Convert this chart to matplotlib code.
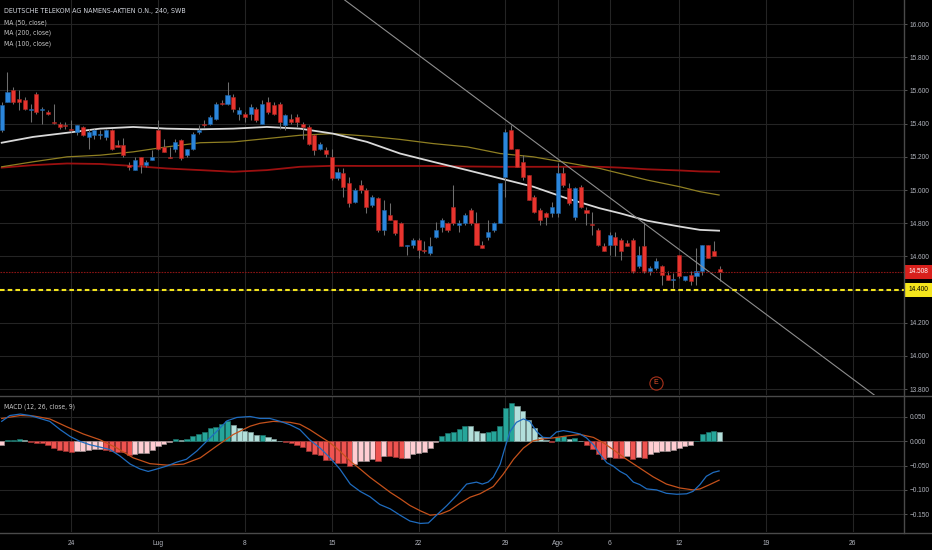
import matplotlib
matplotlib.use('Agg')
import matplotlib.pyplot as plt
import matplotlib.transforms as mtransforms
from matplotlib.lines import Line2D
from matplotlib import font_manager as fm

# ---------------- data ----------------
opens = [15.36,15.53,15.60,15.55,15.54,15.48,15.58,15.48,15.47,15.41,
         15.40,15.39,15.365,15.35,15.38,15.32,15.33,15.33,15.32,15.36,
         15.27,15.27,15.15,15.12,15.20,15.15,15.18,15.36,15.26,15.20,
         15.25,15.30,15.21,15.25,15.35,15.40,15.40,15.43,15.525,15.52,
         15.56,15.46,15.46,15.46,15.49,15.40,15.53,15.51,15.52,15.39,
         15.43,15.44,15.40,15.38,15.33,15.25,15.24,15.20,15.07,15.10,
         15.04,14.93,15.03,15.00,14.91,14.95,14.76,14.85,14.82,14.80,
         14.66,14.67,14.70,14.64,14.62,14.72,14.78,14.80,14.90,14.79,
         14.80,14.88,14.80,14.67,14.72,14.76,14.80,15.08,15.36,15.25,
         15.17,15.09,14.96,14.88,14.86,14.86,14.86,15.10,15.01,14.84,
         15.02,14.88,14.795,14.76,14.66,14.67,14.72,14.70,14.68,14.70,
         14.54,14.66,14.51,14.53,14.54,14.49,14.46,14.61,14.46,14.49,
         14.48,14.51,14.67,14.63,14.525]
highs = [15.53,15.71,15.62,15.60,15.56,15.52,15.59,15.50,15.48,15.52,
         15.41,15.41,15.42,15.39,15.385,15.37,15.37,15.36,15.37,15.37,
         15.30,15.315,15.17,15.20,15.20,15.18,15.24,15.42,15.31,15.26,
         15.31,15.31,15.25,15.35,15.39,15.42,15.45,15.53,15.54,15.65,
         15.58,15.50,15.47,15.52,15.50,15.54,15.56,15.53,15.53,15.46,
         15.46,15.46,15.41,15.39,15.34,15.29,15.26,15.25,15.13,15.13,
         15.08,15.01,15.06,15.01,14.97,14.96,14.94,14.92,14.82,14.81,
         14.67,14.71,14.71,14.69,14.72,14.81,14.83,14.81,15.03,14.82,
         14.86,14.89,14.87,14.69,14.82,14.81,15.04,15.37,15.39,15.25,
         15.21,15.09,14.97,14.89,14.87,14.93,15.16,15.14,15.04,15.02,
         15.03,14.90,14.87,14.77,14.68,14.75,14.75,14.71,14.70,14.71,
         14.66,14.81,14.54,14.59,14.55,14.51,14.50,14.61,14.48,14.51,
         14.65,14.67,14.67,14.69,14.54]
lows = [15.35,15.53,15.52,15.48,15.48,15.41,15.46,15.40,15.45,15.40,
        15.37,15.37,15.35,15.33,15.325,15.25,15.31,15.31,15.30,15.24,
        15.26,15.20,15.12,15.12,15.10,15.14,15.18,15.24,15.23,15.19,
        15.23,15.18,15.20,15.24,15.34,15.38,15.39,15.42,15.51,15.51,
        15.47,15.42,15.41,15.42,15.41,15.40,15.46,15.45,15.37,15.36,
        15.40,15.38,15.31,15.27,15.21,15.24,15.20,15.06,15.06,14.96,
        14.90,14.92,14.98,14.86,14.90,14.75,14.73,14.82,14.73,14.66,
        14.61,14.65,14.59,14.62,14.61,14.71,14.75,14.75,14.79,14.75,
        14.79,14.79,14.67,14.65,14.70,14.75,14.80,14.96,15.25,15.14,
        15.06,14.94,14.86,14.79,14.79,14.84,14.84,15.02,14.91,14.82,
        14.89,14.79,14.73,14.66,14.63,14.61,14.60,14.58,14.66,14.50,
        14.53,14.50,14.49,14.52,14.43,14.46,14.41,14.47,14.45,14.43,
        14.43,14.49,14.59,14.60,14.45]
closes = [15.51,15.59,15.53,15.53,15.49,15.49,15.47,15.49,15.46,15.405,
          15.38,15.385,15.36,15.39,15.33,15.35,15.36,15.34,15.36,15.25,
          15.26,15.21,15.14,15.18,15.15,15.17,15.20,15.25,15.23,15.195,
          15.29,15.19,15.25,15.34,15.36,15.39,15.44,15.52,15.52,15.57,
          15.49,15.48,15.44,15.50,15.42,15.52,15.47,15.46,15.41,15.45,
          15.41,15.41,15.38,15.28,15.24,15.28,15.22,15.07,15.11,15.02,
          14.92,15.00,15.00,14.90,14.96,14.76,14.88,14.82,14.74,14.66,
          14.67,14.70,14.64,14.63,14.66,14.76,14.82,14.76,14.80,14.80,
          14.85,14.80,14.67,14.65,14.75,14.80,15.04,15.35,15.25,15.14,
          15.08,14.94,14.87,14.82,14.84,14.90,15.10,15.03,14.92,15.01,
          14.90,14.86,14.79,14.67,14.63,14.73,14.67,14.63,14.66,14.51,
          14.61,14.51,14.53,14.57,14.49,14.46,14.465,14.48,14.48,14.45,
          14.51,14.67,14.59,14.60,14.508]

ma_x = [0, 5.4, 11.3, 17.0, 22.7, 28.5, 34.3, 40.0, 45.8, 51.5, 57.2, 63.1,
        68.8, 74.5, 80.4, 86.1, 91.8, 97.6, 103.3, 106.8, 111.5, 117.1, 120.6, 123.9]
ma50 = [15.285, 15.32, 15.345, 15.37, 15.38, 15.37, 15.366, 15.37, 15.38, 15.37, 15.34, 15.29,
        15.22, 15.17, 15.12, 15.07, 15.02, 14.95, 14.89, 14.86, 14.815, 14.78, 14.76, 14.755]
ma100 = [15.14, 15.17, 15.20, 15.21, 15.23, 15.26, 15.285, 15.29, 15.31, 15.33, 15.34, 15.325,
         15.305, 15.28, 15.26, 15.22, 15.20, 15.165, 15.13, 15.10, 15.06, 15.02, 14.99, 14.97]
ma200 = [15.135, 15.15, 15.16, 15.157, 15.145, 15.13, 15.12, 15.11, 15.12, 15.14, 15.146, 15.145,
         15.145, 15.145, 15.142, 15.14, 15.14, 15.14, 15.14, 15.135, 15.125, 15.118, 15.112, 15.11]

hist = [-0.008,0.003,0.0035,0.004,0.002,-0.001,-0.003,-0.004,-0.007,-0.014,
        -0.018,-0.020,-0.022,-0.020,-0.019,-0.017,-0.016,-0.015,-0.018,-0.020,
        -0.022,-0.023,-0.028,-0.026,-0.025,-0.024,-0.017,-0.010,-0.005,-0.001,
        0.004,0.003,0.004,0.010,0.016,0.020,0.027,0.030,0.035,0.041,
        0.034,0.028,0.022,0.019,0.012,0.013,0.008,0.005,0.001,-0.002,
        -0.004,-0.008,-0.012,-0.020,-0.027,-0.028,-0.038,-0.039,-0.044,-0.045,
        -0.050,-0.046,-0.041,-0.040,-0.037,-0.041,-0.030,-0.031,-0.033,-0.035,
        -0.034,-0.026,-0.024,-0.022,-0.014,-0.001,0.010,0.017,0.020,0.026,
        0.032,0.031,0.022,0.017,0.020,0.022,0.032,0.069,0.078,0.073,
        0.062,0.044,0.028,0.009,0.003,-0.002,0.009,0.010,0.005,0.006,
        0.000,-0.007,-0.015,-0.027,-0.036,-0.033,-0.034,-0.035,-0.031,-0.037,
        -0.033,-0.034,-0.026,-0.022,-0.021,-0.020,-0.017,-0.014,-0.010,-0.007,
        0.000,0.014,0.019,0.022,0.019]

macd_x = [0, 1.4, 3.2, 4.9, 6.6, 8.3, 10.1, 11.8, 13.5, 15.2, 17.0, 18.7, 20.4, 22.2, 23.9,
          25.3, 26.8, 28.5, 30.2, 31.9, 33.7, 35.4, 37.1, 38.9, 40.6, 42.9, 44.6, 46.3, 48.1,
          49.8, 51.5, 53.2, 55.0, 56.7, 58.4, 60.2, 61.9, 63.6, 65.3, 67.1, 68.8, 70.5, 72.3,
          73.7, 75.1, 76.9, 78.6, 80.3, 82.0, 83.0, 84.0, 84.9, 86.1, 86.9, 87.8, 88.9, 90.1,
          91.2, 92.4, 93.5, 94.7, 95.8, 97.0, 98.4, 99.9, 101.0, 102.2, 103.3, 104.5, 105.6,
          106.8, 107.9, 109.1, 110.2, 111.4, 113.1, 114.8, 116.6, 118.3, 119.4, 120.6, 121.7,
          122.9, 123.9]
macd_line = [0.041, 0.053, 0.056, 0.053, 0.047, 0.041, 0.024, 0.010, 0.000, -0.007, -0.012,
             -0.017, -0.030, -0.047, -0.057, -0.062, -0.057, -0.051, -0.043, -0.037, -0.020,
             0.000, 0.020, 0.042, 0.049, 0.051, 0.047, 0.047, 0.041, 0.034, 0.024, 0.003,
             -0.014, -0.034, -0.057, -0.088, -0.103, -0.114, -0.130, -0.139, -0.152, -0.164,
             -0.169, -0.168, -0.152, -0.132, -0.111, -0.088, -0.084, -0.088, -0.084, -0.074,
             -0.047, -0.014, 0.020, 0.039, 0.046, 0.041, 0.020, 0.008, 0.007, 0.019, 0.022,
             0.019, 0.015, 0.007, -0.007, -0.026, -0.044, -0.051, -0.062, -0.069, -0.084,
             -0.089, -0.098, -0.100, -0.107, -0.109, -0.108, -0.103, -0.089, -0.072, -0.064,
             -0.061]
signal_x = [0, 3.2, 5.5, 8.3, 11.2, 14.1, 17.0, 19.9, 22.7, 25.6, 28.5, 31.4, 34.3, 37.1,
            40.0, 42.9, 44.6, 46.9, 49.8, 51.5, 53.2, 55.0, 56.7, 58.4, 60.2, 61.9, 63.6,
            65.3, 67.1, 68.8, 70.5, 72.3, 74.0, 75.7, 77.4, 79.1, 80.9, 82.6, 84.9, 86.6,
            88.4, 90.1, 91.8, 93.5, 95.3, 97.6, 99.9, 102.2, 103.9, 105.6, 107.9, 110.2,
            112.5, 114.8, 117.1, 119.4, 120.6, 122.3, 123.9]
signal_line = [0.047, 0.053, 0.052, 0.046, 0.030, 0.015, 0.003, -0.014, -0.034, -0.046,
               -0.049, -0.047, -0.034, -0.010, 0.014, 0.031, 0.037, 0.041, 0.039, 0.035,
               0.024, 0.010, -0.003, -0.020, -0.041, -0.057, -0.074, -0.089, -0.105, -0.118,
               -0.132, -0.143, -0.152, -0.150, -0.142, -0.128, -0.115, -0.108, -0.093, -0.068,
               -0.037, -0.014, 0.001, 0.005, 0.007, 0.011, 0.014, 0.008, -0.003, -0.017,
               -0.037, -0.055, -0.073, -0.088, -0.096, -0.100, -0.098, -0.089, -0.080]

price_ticks = [16.0, 15.8, 15.6, 15.4, 15.2, 15.0, 14.8, 14.6, 14.4, 14.2, 14.0, 13.8]
macd_ticks = [0.05, 0.0, -0.05, -0.10, -0.15]
date_pos = [12, 27, 42, 57, 72, 87, 96, 105, 117, 132, 147]
date_labels = ['24', 'Lug', '8', '15', '22', '29', 'Ago', '6', '12', '19', '26']

trend_x = [87.1, 126.3]
trend_y = [15.42, 14.40]
alert_level = 14.40
last_price = 14.508
earnings_idx = 113

title = 'DEUTSCHE TELEKOM AG NAMENS-AKTIEN O.N., 240, SWB'
ma_labels = ['MA (50, close)', 'MA (200, close)', 'MA (100, close)']
macd_title = 'MACD (12, 26, close, 9)'

# ---------------- styling ----------------
W, H = 932, 550
BG = '#000000'
GRID = '#242424'
TXT = '#b2b5be'
UP, DN = '#2b86dc', '#e8342e'
UP_E, DN_E = '#1c5fa0', '#a62420'
plt.rcParams['font.family'] = ['Liberation Sans', 'DejaVu Sans']

# look for an installed narrow / condensed face for the legend texts
narrow_path = None
prefs = ['Liberation Sans Narrow', 'DejaVu Sans Condensed', 'Open Sans Condensed',
         'Roboto Condensed', 'Noto Sans Condensed']
cands = {}
for f in fm.fontManager.ttflist:
    key = f.name
    fn = f.fname.lower()
    if f.style != 'normal' or f.weight not in (400, 'normal', 'regular'):
        continue
    if 'narrow' in fn or 'condensed' in fn or 'narrow' in key.lower() or 'condensed' in key.lower():
        if 'bold' in fn or 'italic' in fn or 'oblique' in fn or 'semi' in fn or 'light' in fn:
            continue
        cands.setdefault(key if 'Condensed' not in fn else key + ' Condensed', f.fname)
for p in prefs:
    for k, v in cands.items():
        if k.startswith(p.split()[0]) and ('Narrow' in p and 'narrow' in v.lower() or 'Condensed' in p and 'condensed' in v.lower()):
            narrow_path = v
            break
    if narrow_path:
        break
if narrow_path is None and cands:
    narrow_path = list(cands.values())[0]

def legend_font(size):
    if narrow_path:
        return fm.FontProperties(fname=narrow_path, size=size)
    return fm.FontProperties(family=['Liberation Sans', 'DejaVu Sans'], size=size)

fig = plt.figure(figsize=(W / 100, H / 100), dpi=100, facecolor=BG)
AXR = 904
ax = fig.add_axes([0, 1 - 395 / H, AXR / W, 395 / H], facecolor=BG)
ax2 = fig.add_axes([0, 1 - 532 / H, AXR / W, (532 - 397) / H], facecolor=BG)

XMIN, XMAX = -0.294, 155.84
for a in (ax, ax2):
    a.set_xlim(XMIN, XMAX)
    for s in a.spines.values():
        s.set_visible(False)
    a.set_xticks(date_pos)
    a.grid(True, color=GRID, lw=0.8)
    a.set_axisbelow(True)
    a.yaxis.tick_right()
    a.tick_params(axis='y', colors='#555555', labelcolor=TXT, labelsize=4.7,
                  length=2.5, width=0.7, pad=1.6, direction='out')
ax.tick_params(axis='x', length=0, labelbottom=False)
ax2.tick_params(axis='x', length=0, labelcolor=TXT, labelsize=4.8, pad=6)
ax2.set_xticklabels(date_labels)

# main price panel
ax.set_ylim(13.765, 16.145)
ax.set_yticks(price_ticks)
ax.set_yticklabels(['%.3f' % t for t in price_ticks])

ax.plot(ma_x, ma200, color='#9c1010', lw=1.3, zorder=2)
ax.plot(ma_x, ma100, color='#8f7f22', lw=0.9, zorder=2)
ax.plot(ma_x, ma50, color='#d9d9d9', lw=1.3, zorder=2)

xs = list(range(len(opens)))
ax.vlines(xs, lows, highs, color='#6e6e6e', lw=0.75, zorder=3)
for i, (o, c) in enumerate(zip(opens, closes)):
    up = c > o
    h = max(abs(c - o), 0.004)
    ax.bar(i, h, bottom=min(o, c), width=0.7, color=UP if up else DN,
           edgecolor=UP_E if up else DN_E, lw=0.4, zorder=4)

ax.axline((trend_x[0], trend_y[0]), (trend_x[1], trend_y[1]), color='#8d8d8d', lw=0.8, zorder=5)

blend = mtransforms.blended_transform_factory(ax.transAxes, ax.transData)
ax.plot([0, 1.0], [last_price, last_price], transform=blend, color='#8a1414', lw=0.8,
        ls=(0, (1.5, 1)), zorder=5, clip_on=False)
ax.plot([0, 1.0], [alert_level, alert_level], transform=blend, color='#f4e51c', lw=1.5,
        ls=(0, (2.2, 1.5)), zorder=6, clip_on=False)

for val, fc, tc in ((last_price, '#d8201c', 'white'), (alert_level, '#f4e51c', 'black')):
    ax.annotate('%.3f' % val, xy=(1.0, val), xycoords=blend, xytext=(3.6, 0),
                textcoords='offset points', va='center', ha='left', fontsize=4.7, color=tc,
                annotation_clip=False,
                bbox=dict(boxstyle='square,pad=0.55', fc=fc, ec='none'), zorder=10)

eb = mtransforms.blended_transform_factory(ax.transData, ax.transAxes)
ax.plot([earnings_idx], [1 - 383 / 395], transform=eb, marker='o', ms=9.5, mfc='none',
        mec='#a8321b', mew=0.8, zorder=7)
ax.text(earnings_idx, 1 - 383 / 395, 'E', transform=eb, color='#e8502a', fontsize=5,
        ha='center', va='center', zorder=8)

# MACD panel
ax2.set_ylim(-0.1866, 0.0911)
ax2.set_yticks(macd_ticks)
ax2.set_yticklabels(['%.3f' % t if t >= 0 else '\u2212%.3f' % abs(t) for t in macd_ticks])
prev = -1.0
cols = []
for v in hist:
    if v >= 0:
        cols.append('#26a69a' if v > prev else '#b2dfdb')
    else:
        cols.append('#ffcdd2' if v > prev else '#ef5350')
    prev = v
ecols = ['#1b6e66' if c == '#26a69a' else '#7f9c99' if c == '#b2dfdb' else
         '#a09092' if c == '#ffcdd2' else '#9c3432' for c in cols]
ax2.bar(xs, hist, width=0.88, color=cols, edgecolor=ecols, lw=0.5, zorder=2)
ax2.axhline(0, color='#3a3a3a', lw=0.6, zorder=1)
ax2.plot(signal_x, signal_line, color='#c4511b', lw=0.9, zorder=3)
ax2.plot(macd_x, macd_line, color='#1f6cbf', lw=0.9, zorder=4)

# legend texts, fitted to the widths they take in the reference
renderer = fig.canvas.get_renderer()
def fitted_text(xpx, ypx, s, color, size, target_w):
    t = fig.text(xpx / W, 1 - ypx / H, s, color=color, va='center', ha='left',
                 fontproperties=legend_font(size))
    w = t.get_window_extent(renderer).width
    if w > target_w * 1.04:
        t.set_fontproperties(legend_font(size * target_w / w))
    return t

fitted_text(4, 11, title, '#d1d4dc', 6.0, 182)
ma_w = [43, 47, 47]
for k, t in enumerate(ma_labels):
    fitted_text(4, 22.3 + 10.7 * k, t, '#c8c8c8', 6.0, ma_w[k])
fitted_text(4, 407, macd_title, '#c8c8c8', 6.0, 71)

# separators / axis borders
for y in (395.8, 532.5):
    fig.add_artist(Line2D([0, 1], [1 - y / H, 1 - y / H], color='#4a4a4a', lw=1.0))
fig.add_artist(Line2D([AXR / W, AXR / W], [1 - 532.5 / H, 1], color='#4a4a4a', lw=1.0))

fig.savefig('out.png', dpi=100, facecolor=BG)
